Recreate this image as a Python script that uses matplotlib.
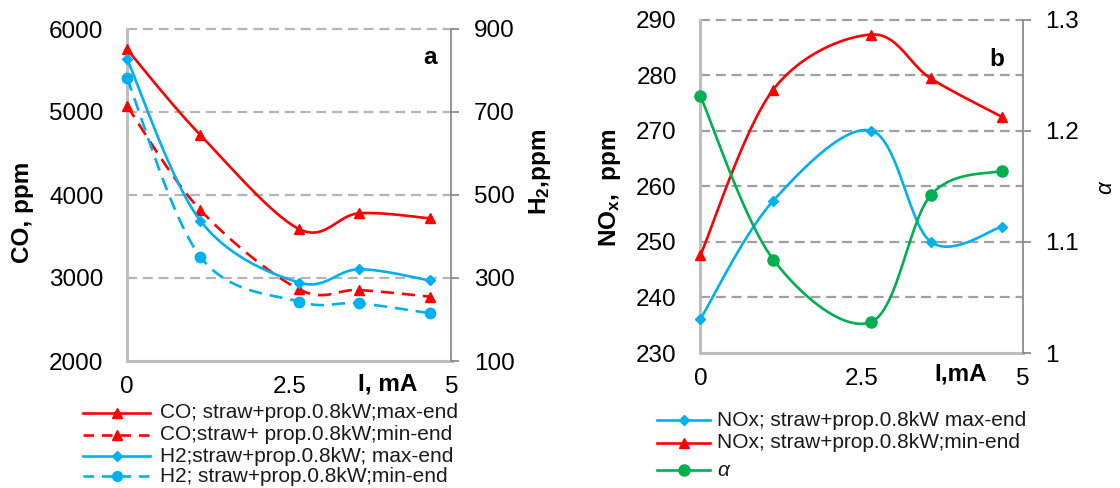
import numpy as np
import matplotlib
matplotlib.use("Agg")
import matplotlib.pyplot as plt
from matplotlib.lines import Line2D

plt.rcParams['font.family'] = ['Liberation Sans', 'DejaVu Sans']
plt.rcParams['mathtext.fontset'] = 'custom'
plt.rcParams['mathtext.rm'] = 'Liberation Sans'
plt.rcParams['mathtext.bf'] = 'Liberation Sans:bold'
plt.rcParams['mathtext.it'] = 'Liberation Sans:italic'

# ---------------- data ----------------
current_mA = [0.0, 1.13, 2.65, 3.57, 4.67]

co_max_end = [5755, 4723, 3590, 3779, 3719]
co_min_end = [5072, 3819, 2864, 2855, 2775]
h2_max_end = [828, 438, 289, 321, 294]
h2_min_end = [781, 351, 243, 239, 215]

nox_max_end = [236.1, 257.4, 270.0, 250.0, 252.7]
nox_min_end = [247.6, 277.4, 287.3, 279.4, 272.5]
alpha_vals = [1.231, 1.084, 1.028, 1.142, 1.164]

x_ticks = [0, 2.5, 5]
x_ticklabels = ["0", "2.5", "5"]
co_ticks = [2000, 3000, 4000, 5000, 6000]
h2_ticks = [100, 300, 500, 700, 900]
nox_ticks = [230, 240, 250, 260, 270, 280, 290]
alpha_ticks = [1.0, 1.1, 1.2, 1.3]
alpha_ticklabels = ["1", "1.1", "1.2", "1.3"]

leg_a = ["CO; straw+prop.0.8kW;max-end",
         "CO;straw+ prop.0.8kW;min-end",
         "H2;straw+prop.0.8kW; max-end",
         "H2; straw+prop.0.8kW;min-end"]
leg_b = ["NOx; straw+prop.0.8kW max-end",
         "NOx; straw+prop.0.8kW;min-end",
         "α"]

RED = '#FF0000'
BLUE = '#00B0F0'
GREEN = '#00B050'
GRID_A = '#B5B5B5'
GRID_B = '#A0A0A0'
SPINE_L = '#BFBFBF'
SPINE_R = '#8C8C8C'

W, H = 1120, 488
fig = plt.figure(figsize=(W / 100, H / 100), dpi=100)


def px_axes(l, t, r, b):
    return fig.add_axes([l / W, 1 - b / H, (r - l) / W, (b - t) / H])


def smooth_plot(ax, x, y, **kw):
    """Excel-like smoothed line (Catmull-Rom bezier in screen space)."""
    x = np.asarray(x, float)
    y = np.asarray(y, float)
    x0, x1 = ax.get_xlim()
    y0, y1 = ax.get_ylim()
    pos = ax.get_position()
    ww, hh = pos.width * W, pos.height * H
    P = np.column_stack([(x - x0) / (x1 - x0) * ww, (y - y0) / (y1 - y0) * hh])
    n = len(P)
    t = np.linspace(0, 1, 25)[:, None]
    segs = []
    for i in range(n - 1):
        p0 = P[max(i - 1, 0)]
        p1 = P[i]
        p2 = P[i + 1]
        p3 = P[min(i + 2, n - 1)]
        c1 = p1 + (p2 - p0) / 6
        c2 = p2 - (p3 - p1) / 6
        B = ((1 - t) ** 3) * p1 + 3 * ((1 - t) ** 2) * t * c1 + 3 * (1 - t) * t ** 2 * c2 + t ** 3 * p2
        segs.append(B if i == 0 else B[1:])
    C = np.vstack(segs)
    xs = C[:, 0] / ww * (x1 - x0) + x0
    ys = C[:, 1] / hh * (y1 - y0) + y0
    ax.plot(xs, ys, clip_on=False, **kw)


def style_axes(ax, axr):
    ax.set_xlim(0, 5)
    ax.set_xticks(x_ticks)
    ax.set_xticklabels(x_ticklabels)
    ax.tick_params(axis='x', length=0, pad=11, labelsize=17.5)
    ax.tick_params(axis='y', length=0, pad=17, labelsize=17.5)
    for s in ['top', 'right']:
        ax.spines[s].set_visible(False)
    ax.spines['left'].set_color(SPINE_L)
    ax.spines['left'].set_linewidth(2.2)
    ax.spines['bottom'].set_color(SPINE_L)
    ax.spines['bottom'].set_linewidth(2.2)
    for s in ['top', 'left', 'bottom']:
        axr.spines[s].set_visible(False)
    axr.spines['right'].set_color(SPINE_R)
    axr.spines['right'].set_linewidth(1.3)
    axr.tick_params(axis='y', length=6, width=1.3, color=SPINE_R, pad=10, labelsize=17.5, direction='out')
    ax.patch.set_visible(False)


def grid_lines(ax, vals, color):
    for v in vals:
        ax.axhline(v, color=color, lw=1.6, dashes=(4.5, 2.6), zorder=0.5, clip_on=False)


# ---------------- chart a ----------------
ax1 = px_axes(127, 29, 451.5, 361)
ax1r = ax1.twinx()
ax1.set_ylim(2000, 6000)
ax1.set_yticks(co_ticks)
ax1r.set_ylim(100, 900)
ax1r.set_yticks(h2_ticks)
style_axes(ax1, ax1r)
grid_lines(ax1, co_ticks[1:], GRID_A)

lw = 1.9
smooth_plot(ax1, current_mA, co_max_end, color=RED, lw=lw, zorder=3)
ax1.plot(current_mA, co_max_end, ls='none', marker='^', ms=7.5, color=RED, clip_on=False, zorder=4)
smooth_plot(ax1, current_mA, co_min_end, color=RED, lw=lw, dashes=(5, 3), zorder=3)
ax1.plot(current_mA, co_min_end, ls='none', marker='^', ms=7.5, color=RED, clip_on=False, zorder=4)
smooth_plot(ax1r, current_mA, h2_max_end, color=BLUE, lw=lw, zorder=3)
ax1r.plot(current_mA, h2_max_end, ls='none', marker='D', ms=5, color=BLUE, clip_on=False, zorder=4)
smooth_plot(ax1r, current_mA, h2_min_end, color=BLUE, lw=lw, dashes=(5, 3), zorder=3)
ax1r.plot(current_mA, h2_min_end, ls='none', marker='o', ms=7.5, color=BLUE, clip_on=False, zorder=4)

fig.text(23 / W, 1 - 212 / H, "CO, ppm", rotation=90, ha='center', va='center',
         fontsize=17.5, fontweight='bold')
fig.text(540 / W, 1 - 172 / H, r"H$_\mathbf{2}$,ppm", rotation=90, ha='center', va='center',
         fontsize=17.5, fontweight='bold')
fig.text(430 / W, 1 - 57 / H, "a", ha='center', va='center', fontsize=17.5, fontweight='bold')
fig.text(388 / W, 1 - 384 / H, "I, mA", ha='center', va='center', fontsize=17.5, fontweight='bold')

# ---------------- chart b ----------------
ax2 = px_axes(700.4, 19.5, 1023, 353)
ax2r = ax2.twinx()
ax2.set_ylim(230, 290)
ax2.set_yticks(nox_ticks)
ax2r.set_ylim(1.0, 1.3)
ax2r.set_yticks(alpha_ticks)
ax2r.set_yticklabels(alpha_ticklabels)
style_axes(ax2, ax2r)
grid_lines(ax2, nox_ticks[1:], GRID_B)

smooth_plot(ax2, current_mA, nox_max_end, color=BLUE, lw=lw, zorder=3)
ax2.plot(current_mA, nox_max_end, ls='none', marker='D', ms=5, color=BLUE, clip_on=False, zorder=4)
smooth_plot(ax2, current_mA, nox_min_end, color=RED, lw=lw, zorder=3)
ax2.plot(current_mA, nox_min_end, ls='none', marker='^', ms=7.5, color=RED, clip_on=False, zorder=4)
smooth_plot(ax2r, current_mA, alpha_vals, color=GREEN, lw=lw, zorder=3)
ax2r.plot(current_mA, alpha_vals, ls='none', marker='o', ms=8, color=GREEN, clip_on=False, zorder=4)

fig.text(610 / W, 1 - 188 / H, r"NO$_\mathbf{x}$,  ppm", rotation=90, ha='center', va='center',
         fontsize=17.5, fontweight='bold')
fig.text(1106 / W, 1 - 188 / H, "α", rotation=90, ha='center', va='center',
         fontsize=16, fontstyle='italic')
fig.text(997 / W, 1 - 60 / H, "b", ha='center', va='center', fontsize=17.5, fontweight='bold')
fig.text(961 / W, 1 - 374 / H, "I,mA", ha='center', va='center', fontsize=17.5, fontweight='bold')


# ---------------- legends ----------------
def legend_entry(x0, x1, y, color, marker, ms, dashed, text, tx, italic=False):
    xm = (x0 + x1) / 2
    kw = dict(color=color, lw=lw, transform=fig.transFigure)
    if dashed:
        kw['dashes'] = (4, 3)
    fig.add_artist(Line2D([x0 / W, x1 / W], [1 - y / H, 1 - y / H], **kw))
    fig.add_artist(Line2D([xm / W], [1 - y / H], ls='none', marker=marker, ms=ms, color=color,
                          transform=fig.transFigure))
    fig.text(tx / W, 1 - y / H, text, ha='left', va='center', fontsize=15,
             fontstyle='italic' if italic else 'normal', color='#1a1a1a')


legend_entry(83, 150, 413, RED, '^', 7, False, leg_a[0], 160)
legend_entry(83, 150, 435, RED, '^', 7, True, leg_a[1], 160)
legend_entry(83, 150, 456, BLUE, 'D', 5, False, leg_a[2], 160)
legend_entry(83, 150, 476, BLUE, 'o', 7, True, leg_a[3], 160)

legend_entry(657, 710, 420, BLUE, 'D', 5, False, leg_b[0], 717)
legend_entry(657, 710, 443, RED, '^', 7, False, leg_b[1], 717)
legend_entry(657, 710, 470, GREEN, 'o', 8, False, leg_b[2], 717, italic=True)

fig.savefig("out.png", dpi=100)
